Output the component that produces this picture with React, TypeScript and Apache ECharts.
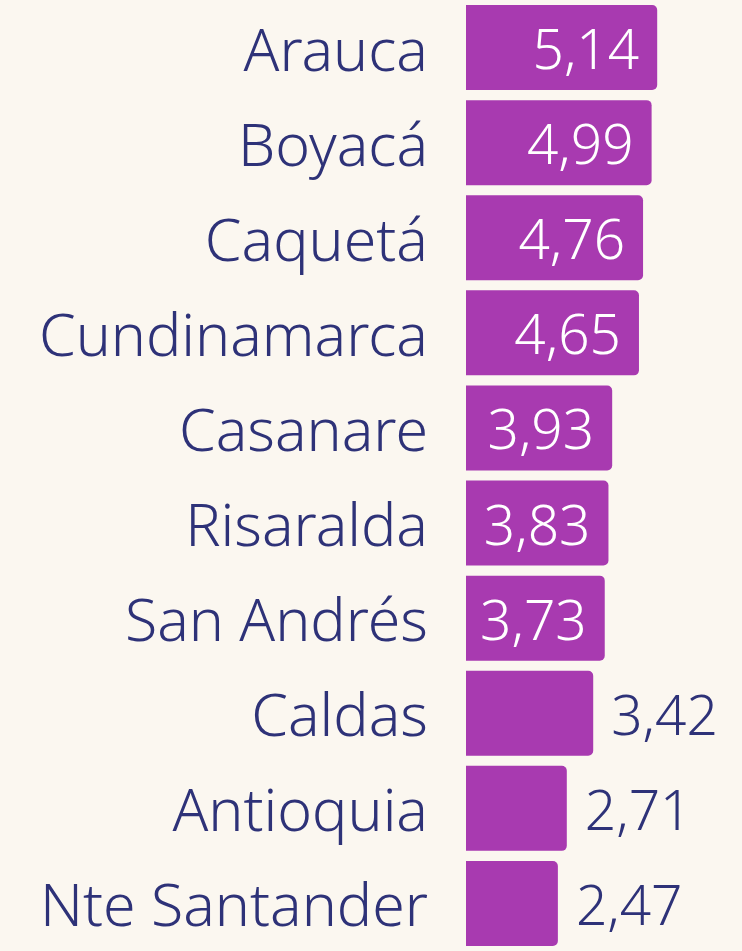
import React, { useEffect, useRef } from "react";
import * as echarts from "echarts";

const categories = [
  "Arauca",
  "Boyacá",
  "Caquetá",
  "Cundinamarca",
  "Casanare",
  "Risaralda",
  "San Andrés",
  "Caldas",
  "Antioquia",
  "Nte Santander",
];
const values = [5.14, 4.99, 4.76, 4.65, 3.93, 3.83, 3.73, 3.42, 2.71, 2.47];
const insideThreshold = 3.6;

const BG = "#FBF7F0";
const BAR = "#A83AB0";
const NAVY = "#2E3278";
const FONT = "'Noto Sans', sans-serif";

export default function App() {
  const ref = useRef<HTMLDivElement>(null);
  useEffect(() => {
    if (!ref.current) return;
    const chart = echarts.init(ref.current, undefined, { renderer: "svg" });
    const fmt = (p: any) => Number(p.value).toFixed(2).replace(".", ",");
    const common = { show: true, distance: 18, formatter: fmt, fontSize: 55, fontFamily: FONT, fontWeight: 350, padding: [0, 0, 10, 0] };
    const data = values.map((v) => ({
      value: v,
      label:
        v >= insideThreshold
          ? { ...common, position: "insideRight", color: "#FFFFFF" }
          : { ...common, position: "right", color: NAVY },
    }));
    chart.setOption({
      animation: false,
      backgroundColor: BG,
      grid: { left: 466, right: 0, top: -2, height: 955.6, containLabel: false },
      xAxis: {
        type: "value",
        min: 0,
        max: 7.42,
        show: false,
        splitLine: { show: false },
      },
      yAxis: {
        type: "category",
        data: categories,
        inverse: true,
        axisLine: { show: false },
        axisTick: { show: false },
        axisLabel: {
          margin: 38,
          color: NAVY,
          fontSize: 59,
          fontFamily: FONT,
          fontWeight: 350,
          align: "right",
          padding: [0, 0, 10, 0],
        },
      },
      series: [
        {
          type: "bar",
          data,
          barWidth: 85,
          itemStyle: { color: BAR, borderRadius: [0, 5, 5, 0] },
        },
      ],
    });
    return () => chart.dispose();
  }, []);
  return (
    <div
      ref={ref}
      style={{ position: "fixed", left: 0, top: 0, width: 742, height: 951, background: BG }}
    />
  );
}
